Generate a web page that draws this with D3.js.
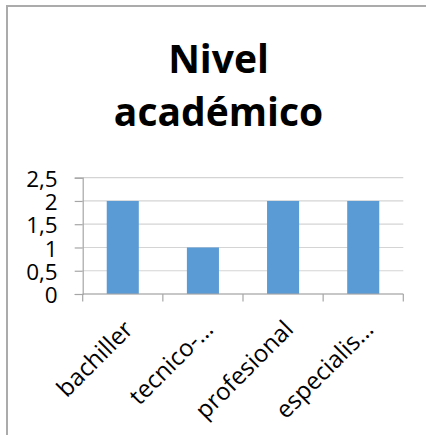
<!DOCTYPE html>
<html>
<head>
<meta charset="utf-8">
<script src="https://cdn.jsdelivr.net/npm/d3@7"></script>
<style>
  html, body { margin: 0; padding: 0; background: #fff; }
  svg { display: block; }
</style>
</head>
<body>
<svg id="chart" width="426" height="435"></svg>
<script>
// Nivel académico: count of people per education level
const categories = ["bachiller", "tecnico-…", "profesional", "especialis…"];
const values = [2, 1, 2, 2];
const yTicks = [0, 0.5, 1, 1.5, 2, 2.5];
const yTickLabels = ["0", "0,5", "1", "1,5", "2", "2,5"];
const titleLines = ["Nivel", "académico"];

const W = 426, H = 435;
const plot = { left: 82.7, right: 403.3, top: 177.7, bottom: 294 };
const font = "'Open Sans', 'Noto Sans', sans-serif";

const svg = d3.select("#chart");

// chart area frame
svg.append("rect")
  .attr("x", 7).attr("y", 6)
  .attr("width", W + 10).attr("height", H + 10)
  .attr("fill", "#fff")
  .attr("stroke", "#ababab")
  .attr("stroke-width", 2);

// title
const title = svg.append("text")
  .attr("text-anchor", "middle")
  .attr("font-family", font)
  .attr("font-weight", 700)
  .attr("font-size", 39)
  .attr("fill", "#000");
titleLines.forEach((t, i) => {
  title.append("tspan")
    .attr("x", 218.5)
    .attr("y", 73 + i * 52.5)
    .text(t);
});

const x = d3.scaleBand()
  .domain(categories)
  .range([plot.left, plot.right])
  .paddingInner(0.6)
  .paddingOuter(0.3);

const y = d3.scaleLinear()
  .domain([0, 2.5])
  .range([plot.bottom, plot.top]);

// horizontal gridlines
svg.append("g")
  .selectAll("line")
  .data(yTicks)
  .join("line")
  .attr("x1", plot.left).attr("x2", plot.right)
  .attr("y1", d => y(d)).attr("y2", d => y(d))
  .attr("stroke", "#d4d4d4")
  .attr("stroke-width", 1.2);

// y axis
const yAxis = d3.axisLeft(y)
  .tickValues(yTicks)
  .tickSize(8)
  .tickPadding(17)
  .tickFormat((d, i) => yTickLabels[i]);

const gy = svg.append("g")
  .attr("transform", `translate(${plot.left},0)`)
  .call(yAxis);
gy.select(".domain").attr("stroke", "#a6a6a6").attr("stroke-width", 1.2);
gy.selectAll(".tick line").attr("stroke", "#a6a6a6").attr("stroke-width", 1.2);
gy.selectAll(".tick text")
  .attr("font-family", font)
  .attr("font-size", 22.5)
  .attr("fill", "#000")
  .attr("dy", "0.38em");

// bars
svg.append("g")
  .selectAll("rect")
  .data(values)
  .join("rect")
  .attr("x", (d, i) => x(categories[i]))
  .attr("width", x.bandwidth())
  .attr("y", d => y(d))
  .attr("height", d => y(0) - y(d))
  .attr("fill", "#5b9bd5");

// x axis line and category boundary ticks
const gx = svg.append("g");
gx.append("line")
  .attr("x1", plot.left).attr("x2", plot.right)
  .attr("y1", plot.bottom).attr("y2", plot.bottom)
  .attr("stroke", "#a6a6a6").attr("stroke-width", 1.2);
const step = x.step();
const bounds = d3.range(categories.length + 1)
  .map(i => x(categories[0]) - x.paddingOuter() * step + i * step);
gx.selectAll("line.tk")
  .data(bounds)
  .join("line")
  .attr("class", "tk")
  .attr("x1", d => d).attr("x2", d => d)
  .attr("y1", plot.bottom).attr("y2", plot.bottom + 7.5)
  .attr("stroke", "#a6a6a6").attr("stroke-width", 1.2);

// rotated category labels
gx.selectAll("text")
  .data(categories)
  .join("text")
  .attr("transform", d => `translate(${x(d) + x.bandwidth() / 2 - 1},${plot.bottom + 24}) rotate(-45)`)
  .attr("text-anchor", "end")
  .attr("dy", "0.75em")
  .attr("font-family", font)
  .attr("font-size", 24)
  .attr("fill", "#000")
  .text(d => d);
</script>
</body>
</html>
